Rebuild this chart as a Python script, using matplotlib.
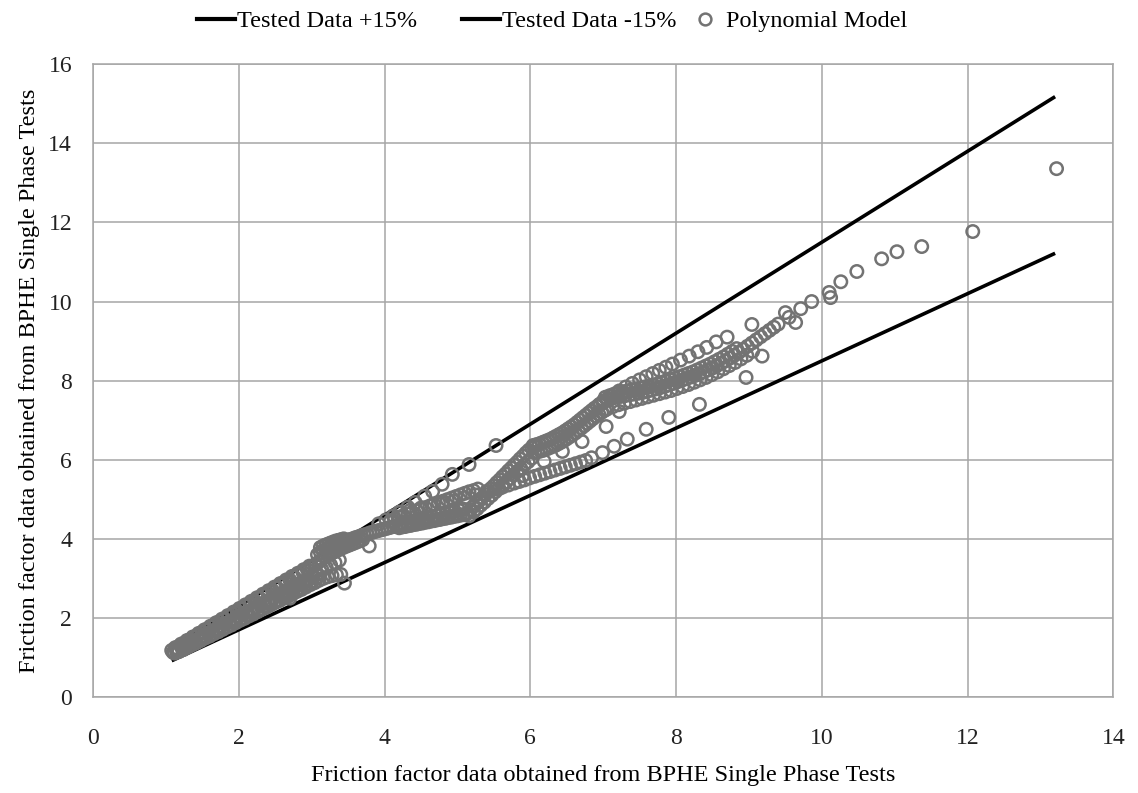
import matplotlib
matplotlib.use("Agg")
import matplotlib.pyplot as plt
from matplotlib.lines import Line2D

# Reference lines (+/-15 % band around the tested data)
band_x = [1.08, 13.2]
band_plus_y = [1.242, 15.18]
band_minus_y = [0.918, 11.22]

# Polynomial model predictions, grouped by run series
# low friction-factor range, overlapping runs
low1_x = [1.08, 1.14, 1.20, 1.26, 1.32, 1.38, 1.44, 1.50, 1.56, 1.62, 1.68, 1.74, 1.80,
          1.86, 1.92, 1.98, 2.04, 2.10, 2.16, 2.22, 2.28, 2.34, 2.40, 2.46, 2.52, 2.58,
          2.64, 2.70, 2.76, 2.82, 2.88, 2.94, 3.00, 3.06]
low1_y = [1.18, 1.24, 1.31, 1.37, 1.44, 1.51, 1.57, 1.64, 1.71, 1.77, 1.84, 1.91, 1.97,
          2.04, 2.10, 2.17, 2.24, 2.30, 2.37, 2.43, 2.50, 2.57, 2.63, 2.70, 2.76, 2.83,
          2.90, 2.96, 3.03, 3.09, 3.16, 3.23, 3.29, 3.36]
low2_x = [1.10, 1.16, 1.22, 1.28, 1.34, 1.40, 1.46, 1.52, 1.58, 1.64, 1.70, 1.76, 1.82,
          1.88, 1.94, 2.00, 2.06, 2.12, 2.18, 2.24, 2.30, 2.36, 2.42, 2.48, 2.54, 2.60,
          2.66, 2.72, 2.78, 2.84, 2.90, 2.96, 3.02, 3.08]
low2_y = [1.13, 1.19, 1.25, 1.31, 1.37, 1.43, 1.49, 1.55, 1.61, 1.67, 1.73, 1.79, 1.85,
          1.91, 1.97, 2.03, 2.09, 2.15, 2.21, 2.27, 2.33, 2.39, 2.45, 2.51, 2.57, 2.63,
          2.69, 2.75, 2.81, 2.87, 2.93, 2.99, 3.05, 3.11]
low3_x = [1.12, 1.18, 1.24, 1.30, 1.36, 1.42, 1.48, 1.54, 1.60, 1.66, 1.72, 1.78, 1.84,
          1.90, 1.96, 2.02, 2.08, 2.14, 2.20, 2.26, 2.32, 2.38, 2.44, 2.50, 2.56, 2.62,
          2.68, 2.74, 2.80, 2.86, 2.92, 2.98, 3.04, 3.10, 3.16, 3.22, 3.28, 3.34, 3.40,
          2.70, 3.45]
low3_y = [1.11, 1.15, 1.20, 1.26, 1.32, 1.37, 1.43, 1.49, 1.54, 1.60, 1.65, 1.71, 1.77,
          1.82, 1.88, 1.94, 1.99, 2.05, 2.10, 2.16, 2.22, 2.27, 2.33, 2.39, 2.44, 2.50,
          2.55, 2.61, 2.67, 2.72, 2.78, 2.84, 2.89, 2.95, 3.00, 3.04, 3.07, 3.09, 3.10,
          2.50, 2.88]
low4_x = [1.13, 1.21, 1.29, 1.37, 1.45, 1.53, 1.61, 1.69, 1.77, 1.85, 1.93, 2.01, 2.09,
          2.17, 2.25, 2.33, 2.41, 2.49, 2.57, 2.65, 2.73, 2.81, 2.89, 2.97]
low4_y = [1.25, 1.34, 1.43, 1.52, 1.61, 1.70, 1.79, 1.88, 1.97, 2.06, 2.15, 2.24, 2.33,
          2.42, 2.51, 2.60, 2.69, 2.78, 2.87, 2.96, 3.05, 3.13, 3.22, 3.31]
low5_x = [1.15, 1.23, 1.31, 1.39, 1.47, 1.55, 1.63, 1.71, 1.79, 1.87, 1.95, 2.03, 2.11,
          2.19, 2.27, 2.35, 2.43, 2.51, 2.59, 2.67, 2.75, 2.83, 2.91, 2.99, 3.07]
low5_y = [1.14, 1.21, 1.29, 1.37, 1.45, 1.52, 1.60, 1.68, 1.76, 1.83, 1.91, 1.99, 2.07,
          2.14, 2.22, 2.30, 2.38, 2.45, 2.53, 2.61, 2.69, 2.76, 2.84, 2.92, 3.00]

# cluster between 3 and 4.2
blob1_x = [3.08, 3.12, 3.16, 3.20, 3.24, 3.28, 3.32, 3.36, 3.40, 3.44, 3.48, 3.52, 3.56,
           3.60, 3.64, 3.68, 3.72, 3.76, 3.80, 3.84, 3.88, 3.92, 3.96, 4.00, 4.04, 4.08,
           4.12, 4.16, 4.20]
blob1_y = [3.60, 3.66, 3.70, 3.74, 3.77, 3.80, 3.83, 3.86, 3.89, 3.92, 3.95, 3.98, 4.00,
           4.03, 4.05, 4.08, 4.10, 4.12, 4.15, 4.17, 4.19, 4.21, 4.23, 4.25, 4.27, 4.29,
           4.31, 4.33, 4.35]
blob2_x = [3.06, 3.10, 3.14, 3.18, 3.22, 3.26, 3.30, 3.34, 3.38, 3.42, 3.46, 3.50, 3.54,
           3.58, 3.62, 3.66, 3.70, 3.79]
blob2_y = [3.35, 3.42, 3.48, 3.53, 3.58, 3.62, 3.66, 3.70, 3.73, 3.77, 3.80, 3.83, 3.86,
           3.89, 3.92, 3.95, 3.98, 3.82]
blob3_x = [3.12, 3.16, 3.20, 3.24, 3.28, 3.32, 3.36, 3.40, 3.44, 3.14, 3.20, 3.26, 3.32,
           3.38]
blob3_y = [3.78, 3.82, 3.85, 3.88, 3.91, 3.94, 3.96, 3.98, 4.00, 3.22, 3.28, 3.34, 3.40,
           3.46]

# band between 4.2 and 5.2
mid1_x = [4.20, 4.24, 4.28, 4.32, 4.36, 4.40, 4.44, 4.48, 4.52, 4.56, 4.60, 4.64, 4.68,
          4.72, 4.76, 4.80, 4.84, 4.88, 4.92, 4.96, 5.00, 5.04, 5.08, 5.12, 5.16]
mid1_y = [4.28, 4.30, 4.31, 4.33, 4.34, 4.36, 4.37, 4.39, 4.40, 4.42, 4.43, 4.45, 4.46,
          4.48, 4.49, 4.51, 4.52, 4.54, 4.55, 4.57, 4.58, 4.60, 4.61, 4.62, 4.58]
mid2_x = [4.24, 4.30, 4.36, 4.42, 4.48, 4.54, 4.60, 4.66, 4.72, 4.78, 4.84, 4.90, 4.96,
          5.02, 5.08]
mid2_y = [4.40, 4.42, 4.44, 4.46, 4.49, 4.51, 4.54, 4.56, 4.59, 4.62, 4.64, 4.67, 4.70,
          4.72, 4.75]
mid3_x = [4.08, 4.14, 4.20, 4.26, 4.32, 4.38, 4.44, 4.50, 4.56, 4.62, 4.68, 4.74, 4.80,
          4.86, 4.92, 4.98, 5.04, 5.10, 5.16, 5.22, 5.28]
mid3_y = [4.45, 4.50, 4.55, 4.59, 4.63, 4.67, 4.71, 4.75, 4.79, 4.83, 4.87, 4.91, 4.95,
          4.99, 5.03, 5.07, 5.11, 5.15, 5.19, 5.22, 5.26]

# sparse run close to the +15 % line
upper_x = [3.92, 4.02, 4.12, 4.22, 4.32, 4.42, 4.55, 4.66, 4.79, 4.93, 5.16, 5.53]
upper_y = [4.38, 4.48, 4.58, 4.68, 4.80, 4.92, 5.08, 5.20, 5.38, 5.63, 5.88, 6.36]

# steep rise from 5.1 to 6.1
steep1_x = [5.14, 5.18, 5.22, 5.26, 5.30, 5.34, 5.38, 5.42, 5.46, 5.50, 5.54, 5.58, 5.62,
            5.66, 5.70, 5.74, 5.78, 5.82, 5.86, 5.90, 5.94, 5.98, 6.02, 6.06]
steep1_y = [4.66, 4.74, 4.82, 4.89, 4.97, 5.04, 5.12, 5.19, 5.27, 5.34, 5.42, 5.49, 5.57,
            5.64, 5.72, 5.79, 5.87, 5.94, 6.02, 6.09, 6.17, 6.24, 6.30, 6.35]
steep2_x = [5.22, 5.27, 5.32, 5.37, 5.42, 5.47, 5.52, 5.57, 5.62, 5.67, 5.72, 5.77, 5.82,
            5.87, 5.92, 5.97, 6.02]
steep2_y = [4.68, 4.76, 4.85, 4.93, 5.02, 5.10, 5.19, 5.27, 5.36, 5.44, 5.53, 5.61, 5.70,
            5.78, 5.87, 5.95, 6.04]

# dense band from 6 to 7
dense1_x = [6.04, 6.08, 6.12, 6.16, 6.20, 6.24, 6.28, 6.32, 6.36, 6.40, 6.44, 6.48, 6.52,
            6.56, 6.60, 6.64, 6.68, 6.72, 6.76, 6.80, 6.84, 6.88, 6.92, 6.96, 7.00]
dense1_y = [6.36, 6.38, 6.40, 6.43, 6.46, 6.49, 6.52, 6.56, 6.60, 6.64, 6.68, 6.73, 6.78,
            6.83, 6.88, 6.94, 7.00, 7.06, 7.12, 7.18, 7.24, 7.30, 7.35, 7.40, 7.44]
dense2_x = [6.06, 6.10, 6.14, 6.18, 6.22, 6.26, 6.30, 6.34, 6.38, 6.42, 6.46, 6.50, 6.54,
            6.58, 6.62, 6.66, 6.70, 6.74, 6.78, 6.82, 6.86, 6.90, 6.94, 6.98, 7.02]
dense2_y = [6.18, 6.20, 6.22, 6.24, 6.27, 6.30, 6.33, 6.36, 6.40, 6.44, 6.48, 6.53, 6.58,
            6.63, 6.68, 6.74, 6.80, 6.86, 6.92, 6.98, 7.04, 7.10, 7.15, 7.20, 7.25]

# dense band from 7 to 9.4
high1_x = [7.00, 7.06, 7.12, 7.18, 7.24, 7.30, 7.36, 7.42, 7.48, 7.54, 7.60, 7.66, 7.72,
           7.78, 7.84, 7.90, 7.96, 8.02, 8.08, 8.14, 8.20, 8.26, 8.32, 8.38, 8.44, 8.50,
           8.56, 8.62, 8.68, 8.74, 8.80, 8.86, 8.92, 8.98, 9.04, 9.10, 9.16, 9.22, 9.28,
           9.34, 9.40]
high1_y = [7.48, 7.52, 7.55, 7.58, 7.60, 7.62, 7.64, 7.66, 7.68, 7.70, 7.73, 7.76, 7.79,
           7.82, 7.85, 7.89, 7.93, 7.97, 8.01, 8.05, 8.09, 8.13, 8.17, 8.22, 8.27, 8.32,
           8.38, 8.44, 8.50, 8.57, 8.64, 8.71, 8.79, 8.87, 8.95, 9.03, 9.11, 9.19, 9.27,
           9.35, 9.43]
high2_x = [7.03, 7.09, 7.15, 7.21, 7.27, 7.33, 7.39, 7.45, 7.51, 7.57, 7.63, 7.69, 7.75,
           7.81, 7.87, 7.93, 7.99, 8.05, 8.11, 8.17, 8.23, 8.29, 8.35, 8.41, 8.47, 8.53,
           8.59, 8.65, 8.71, 8.77, 8.83]
high2_y = [7.58, 7.62, 7.66, 7.69, 7.72, 7.74, 7.77, 7.79, 7.81, 7.84, 7.86, 7.89, 7.92,
           7.95, 7.98, 8.02, 8.06, 8.10, 8.14, 8.18, 8.22, 8.27, 8.32, 8.37, 8.42, 8.48,
           8.54, 8.60, 8.67, 8.74, 8.81]
high3_x = [7.05, 7.13, 7.21, 7.29, 7.37, 7.45, 7.53, 7.61, 7.69, 7.77, 7.85, 7.93, 8.01,
           8.09, 8.17, 8.25, 8.33, 8.41, 8.49, 8.57, 8.65, 8.73, 8.81, 8.89, 8.97, 9.05]
high3_y = [7.28, 7.34, 7.39, 7.43, 7.47, 7.51, 7.55, 7.59, 7.63, 7.67, 7.71, 7.75, 7.80,
           7.85, 7.90, 7.96, 8.02, 8.08, 8.15, 8.22, 8.30, 8.38, 8.46, 8.55, 8.64, 8.74]

# run just above the -15 % line
row_x = [4.20, 4.35, 4.50, 4.65, 4.80, 4.95, 5.10, 5.25, 5.40, 5.52, 5.62, 5.70, 5.78,
         5.85, 5.92, 5.99, 6.06, 6.13, 6.20, 6.27, 6.34, 6.41, 6.48, 6.55, 6.62, 6.69,
         6.76, 6.84, 6.99, 7.15, 7.33, 7.59, 7.90, 8.32]
row_y = [4.67, 4.72, 4.78, 4.84, 4.90, 4.96, 5.04, 5.11, 5.20, 5.26, 5.31, 5.36, 5.41,
         5.45, 5.49, 5.54, 5.58, 5.62, 5.66, 5.70, 5.74, 5.78, 5.82, 5.86, 5.90, 5.94,
         5.98, 6.05, 6.18, 6.34, 6.52, 6.77, 7.07, 7.40]

# middle sparse run
midrow_x = [5.90, 6.19, 6.44, 6.71, 7.04, 7.22]
midrow_y = [5.60, 5.96, 6.21, 6.46, 6.84, 7.22]

# run above the upper dense band
top_x = [6.95, 7.05, 7.12, 7.22, 7.31, 7.40, 7.50, 7.59, 7.68, 7.77, 7.86, 7.95,
         8.06, 8.18, 8.30, 8.42, 8.55, 8.70, 9.04]
top_y = [7.40, 7.52, 7.62, 7.74, 7.84, 7.93, 8.02, 8.10, 8.18, 8.26, 8.34, 8.42,
         8.52, 8.62, 8.73, 8.84, 8.98, 9.10, 9.42]

# highest friction factors
tail_x = [8.96, 9.18, 9.50, 9.55, 9.64, 9.71, 9.86, 10.10, 10.12, 10.26, 10.48,
          10.82, 11.03, 11.37, 12.07, 13.22]
tail_y = [8.08, 8.62, 9.72, 9.60, 9.47, 9.82, 10.00, 10.23, 10.10, 10.50, 10.76,
          11.08, 11.26, 11.39, 11.77, 13.36]

model_x = (low1_x + low2_x + low3_x + low4_x + low5_x + blob1_x + blob2_x + blob3_x
           + mid1_x + mid2_x + mid3_x + upper_x + steep1_x + steep2_x + dense1_x
           + dense2_x + high1_x + high2_x + high3_x + row_x + midrow_x + top_x + tail_x)
model_y = (low1_y + low2_y + low3_y + low4_y + low5_y + blob1_y + blob2_y + blob3_y
           + mid1_y + mid2_y + mid3_y + upper_y + steep1_y + steep2_y + dense1_y
           + dense2_y + high1_y + high2_y + high3_y + row_y + midrow_y + top_y + tail_y)

x_ticks = [0, 2, 4, 6, 8, 10, 12, 14]
y_ticks = [0, 2, 4, 6, 8, 10, 12, 14, 16]

serif = ["Liberation Serif", "DejaVu Serif"]
grey = "#a6a6a6"
marker_grey = "#737373"

fig = plt.figure(figsize=(11.38, 7.93), dpi=100)
ax = fig.add_axes([0.0817, 0.121, 0.8967, 0.798])

ax.plot(band_x, band_plus_y, color="black", lw=2.6, solid_capstyle="butt", zorder=3)
ax.plot(band_x, band_minus_y, color="black", lw=2.6, solid_capstyle="butt", zorder=3)
ax.scatter(model_x, model_y, s=80, facecolors="none", edgecolors=marker_grey,
           linewidths=1.8, zorder=4)

ax.set_xlim(0, 14)
ax.set_ylim(0, 16)
ax.set_xticks(x_ticks)
ax.set_yticks(y_ticks)
ax.grid(True, color=grey, lw=1.1)
ax.set_axisbelow(True)
for s in ax.spines.values():
    s.set_color(grey)
    s.set_linewidth(1.1)
ax.tick_params(length=0, labelsize=17)
ax.tick_params(axis="x", pad=22)
ax.tick_params(axis="y", pad=15)
for lab in ax.get_xticklabels() + ax.get_yticklabels():
    lab.set_family(serif)
    lab.set_color("#222222")

ax.set_xlabel("Friction factor data obtained from BPHE Single Phase Tests",
              family=serif, fontsize=17.5, labelpad=12)
ax.set_ylabel("Friction factor data obtained from BPHE Single Phase Tests",
              family=serif, fontsize=17.5, labelpad=6)

legend_items = [
    (Line2D([], [], color="black", lw=3), "Tested Data +15%", 0.173),
    (Line2D([], [], color="black", lw=3), "Tested Data -15%", 0.406),
    (Line2D([], [], ls="none", marker="o", markersize=8.5, markerfacecolor="none",
            markeredgecolor=marker_grey, markeredgewidth=1.8), "Polynomial Model", 0.603),
]
for handle, text, x0 in legend_items:
    fig.legend([handle], [text], loc="center left", bbox_to_anchor=(x0, 0.973),
               frameon=False, prop={"family": serif, "size": 17.5}, handlelength=1.55,
               handletextpad=0.1, borderpad=0, borderaxespad=0)

fig.savefig("out.png", dpi=100)
